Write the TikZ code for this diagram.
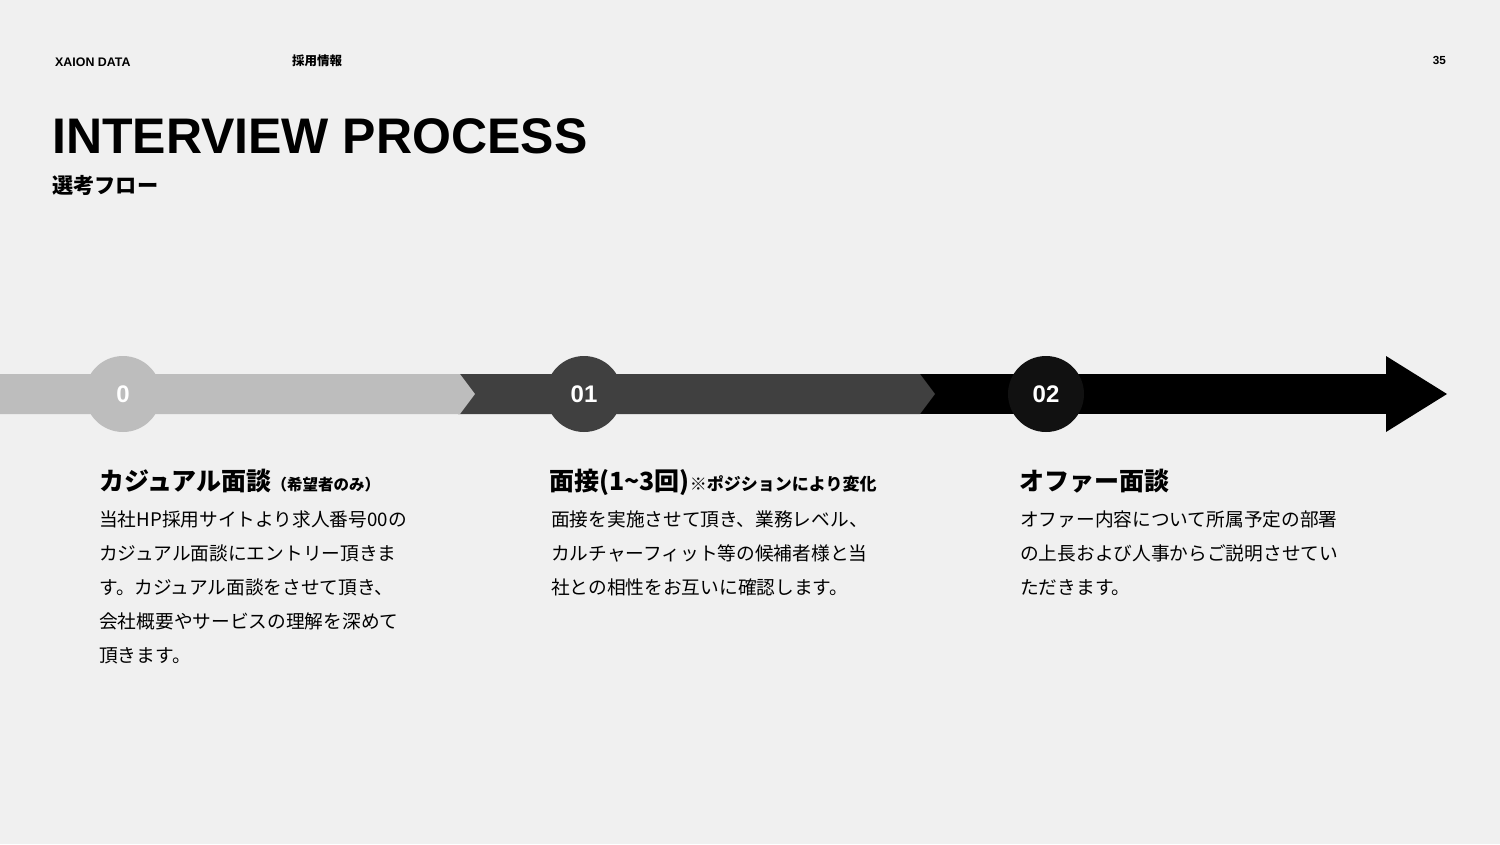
\documentclass[tikz,border=0pt]{standalone}
\usepackage{fontspec}
\setmainfont{Liberation Sans}
\newfontfamily\jpfont{Noto Sans CJK JP}
\usetikzlibrary{positioning}
\definecolor{paper}{RGB}{240,240,240}
\definecolor{stepgrey}{RGB}{189,189,189}
\definecolor{stepdark}{RGB}{64,64,64}
\definecolor{stepblack}{RGB}{0,0,0}
\definecolor{dotblack}{RGB}{17,17,17}

\begin{document}
\begin{tikzpicture}[x=1pt,y=-1pt,
	header/.style = {anchor=base west, inner sep=0pt, font=\fontsize{12.4}{14}\selectfont\bfseries},
	stepdot/.style = {circle, minimum size=76pt, inner sep=0pt, text=white, font=\fontsize{24}{28}\selectfont\bfseries},
	phase/.style = {anchor=base west, inner sep=0pt, font=\jpfont\fontsize{25}{30}\selectfont\bfseries},
	body/.style = {anchor=north west, inner sep=0pt, align=left, font=\jpfont\fontsize{18.7}{34}\selectfont}]
	
	% page
	\fill[paper] (0,0) rectangle (1500,844);
	\useasboundingbox (0,0) rectangle (1500,844);
	
	% running head
	\node[header] (brand) at (55,66) {XAION DATA};
	\node[header, font=\jpfont\fontsize{12.5}{14}\selectfont\bfseries] (section) at (292,65) {採用情報};
	\node[header, anchor=base east, font=\fontsize{11.7}{14}\selectfont\bfseries] (page) at (1446,64) {35};
	
	% title
	\node[anchor=base west, inner sep=0pt, font=\fontsize{50}{56}\selectfont\bfseries] (title) at (52,153) {INTERVIEW PROCESS};
	\node[anchor=base west, inner sep=0pt, font=\jpfont\fontsize{21.2}{24}\selectfont\bfseries] (subtitle) at (52,193) {選考フロー};
	
	% the band, back to front
	\fill[stepblack] (918,374) rectangle (1388,414);
	\fill[stepblack] (1386,356) -- (1447,394) -- (1386,432) -- cycle;
	\fill[stepdark] (458,374) -- (920,374) -- (935,394) -- (920,414) -- (458,414) -- cycle;
	\fill[stepgrey] (0,374) -- (460,374) -- (475,394) -- (460,414) -- (0,414) -- cycle;
	
	% one dot for each stage
	\foreach \i/\x/\col/\num in {0/123/stepgrey/0, 1/584/stepdark/01, 2/1046/dotblack/02}
	\node[stepdot, fill=\col] (c\i) at (\x,394) {\num};
	
	% stage titles
	\node[phase] (h0) at (99,490) {カジュアル面談{\fontsize{15.5}{18}\selectfont （希望者のみ）}};
	\node[phase] (h1) at (549,490) {面接(1\char"7E 3回){\fontsize{17}{20}\selectfont ※ポジションにより変化}};
	\node[phase] (h2) at (1019,490) {オファー面談};
	
	% stage texts
	\node[body] (b0) at (99,511) {当社HP採用サイトより求人番号00の\\カジュアル面談にエントリー頂きま\\す。カジュアル面談をさせて頂き、\\会社概要やサービスの理解を深めて\\頂きます。};
	\node[body] (b1) at (551,511) {面接を実施させて頂き、業務レベル、\\カルチャーフィット等の候補者様と当\\社との相性をお互いに確認します。};
	\node[body] (b2) at (1020,511) {オファー内容について所属予定の部署\\の上長および人事からご説明させてい\\ただきます。};
	
\end{tikzpicture}
\end{document}
